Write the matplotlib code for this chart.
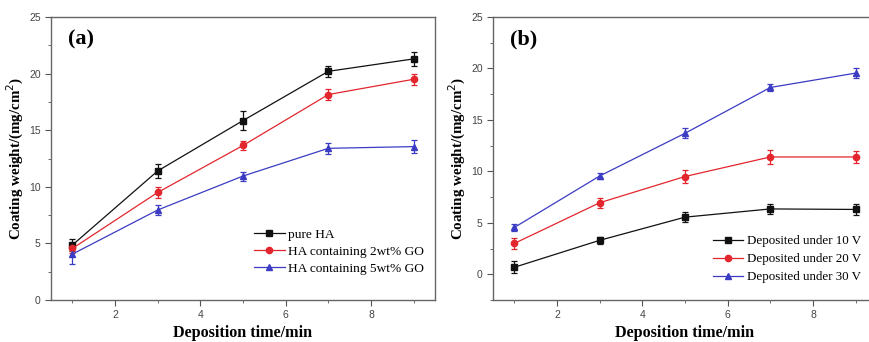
import matplotlib
matplotlib.use('Agg')
import matplotlib.pyplot as plt
from matplotlib.ticker import MultipleLocator
from matplotlib.lines import Line2D

# deposition times (min)
t = [1, 3, 5, 7, 9]

# (a) different GO content
pure_ha = [4.85, 11.4, 15.85, 20.2, 21.3]
pure_ha_err = [0.5, 0.6, 0.85, 0.5, 0.6]
go2 = [4.55, 9.5, 13.65, 18.15, 19.5]
go2_err = [0.4, 0.5, 0.4, 0.5, 0.5]
go5 = [4.05, 7.95, 10.95, 13.4, 13.55]
go5_err = [0.85, 0.4, 0.4, 0.5, 0.55]

# (b) different voltages
v10 = [0.68, 3.3, 5.55, 6.35, 6.3]
v10_err = [0.6, 0.35, 0.5, 0.5, 0.5]
v20 = [3.0, 6.95, 9.5, 11.4, 11.4]
v20_err = [0.5, 0.5, 0.6, 0.7, 0.55]
v30 = [4.55, 9.55, 13.7, 18.15, 19.55]
v30_err = [0.3, 0.25, 0.5, 0.3, 0.5]

labels_a = ['pure HA', 'HA containing 2wt% GO', 'HA containing 5wt% GO']
labels_b = ['Deposited under 10 V', 'Deposited under 20 V', 'Deposited under 30 V']

colors = ['#111111', '#e3262e', '#3b3bc4']
markers = ['s', 'o', '^']
serif = 'Liberation Serif'
sans = 'Liberation Sans'

fig = plt.figure(figsize=(8.7, 3.42), dpi=100)
ax1 = fig.add_axes([51/870, 42/342, 384/870, 283/342])
ax2 = fig.add_axes([493/870, 42/342, 384/870, 283/342])


def draw(ax, series, errs, labels, ylim, tag, legend_pos, legend_size, spacing):
    handles = []
    for y, e, lab, c, m in zip(series, errs, labels, colors, markers):
        ax.errorbar(t, y, yerr=e, color=c, marker=m, markersize=4.5,
                    linewidth=0.9, elinewidth=0.9, capsize=2.5, capthick=0.9)
        handles.append(Line2D([], [], color=c, marker=m, markersize=4.5,
                              linewidth=0.9, label=lab))
    ax.set_xlim(0.5, 9.5)
    ax.set_ylim(*ylim)
    ax.xaxis.set_major_locator(MultipleLocator(2))
    ax.xaxis.set_minor_locator(MultipleLocator(1))
    ax.yaxis.set_major_locator(MultipleLocator(5))
    ax.yaxis.set_minor_locator(MultipleLocator(2.5))
    ax.tick_params(which='both', direction='out', color='#555555', labelsize=7.5,
                   labelcolor='#444444')
    ax.tick_params(which='major', length=4)
    ax.tick_params(which='minor', length=2.5)
    for lbl in ax.get_xticklabels() + ax.get_yticklabels():
        lbl.set_family(sans)
    for sp in ax.spines.values():
        sp.set_color('#666666')
        sp.set_linewidth(1.0)
    ax.set_xlabel('Deposition time/min', family=serif, fontweight='bold',
                  fontsize=11.6, labelpad=3)
    ax.set_ylabel('Coating weight/(mg/cm$^2$)', family=serif, fontweight='bold',
                  fontsize=10.8, labelpad=2)
    ax.text(0.045, 0.955, tag, transform=ax.transAxes, family=serif,
            fontweight='bold', fontsize=16, va='top')
    ax.legend(handles=handles, loc='lower left', bbox_to_anchor=legend_pos,
              frameon=False, prop={'family': serif, 'size': legend_size},
              handlelength=2.3, handletextpad=0.25, labelspacing=spacing,
              borderaxespad=0)


draw(ax1, [pure_ha, go2, go5], [pure_ha_err, go2_err, go5_err], labels_a,
     (0, 25), '(a)', (0.515, 0.07), 9.6, 0.35)
draw(ax2, [v10, v20, v30], [v10_err, v20_err, v30_err], labels_b,
     (-2.5, 25), '(b)', (0.56, 0.04), 9.4, 0.45)

fig.savefig('out.png', dpi=100)
